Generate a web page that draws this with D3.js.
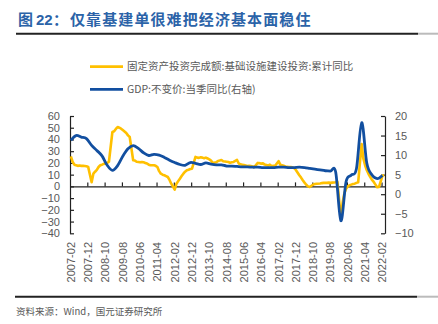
<!DOCTYPE html>
<html><head><meta charset="utf-8">
<script src="https://cdn.jsdelivr.net/npm/d3@7"></script>
<style>body{margin:0;background:#fff;} svg{display:block}</style>
</head><body>
<svg id="c" width="438" height="324"></svg>
<script>
// ---- data ----
// 基础设施建设投资 累计同比 (%), monthly 2007-02 .. 2022-03 (January = null, not published)
const infra = [
  /*2007*/ 25.5, 21.0, 18.5, 18.0, 17.5, 17.8, 17.5, 17.6, 17.4, 17.2, 16.6,
  /*2008*/ null, 3.5, 10.8, 12.5, 14.0, 16.5, 18.0, 18.5, 19.2, 19.5, 20.0, 21.0,
  /*2009*/ null, 46.4, 47.0, 49.0, 50.6, 50.0, 49.2, 48.0, 46.8, 45.5, 43.5, 42.1,
  /*2010*/ null, 22.3, 22.0, 21.0, 20.8, 20.5, 20.8, 20.5, 20.0, 19.5, 18.5, 18.0,
  /*2011*/ null, 18.0, 17.5, 16.5, 13.0, 10.8, 10.0, 9.5, 8.8, 8.0, 5.5, 2.3,
  /*2012*/ null, -2.8, 2.3, 4.5, 6.6, 8.8, 10.8, 12.5, 13.7, 14.2, 14.8, 15.1,
  /*2013*/ null, 25.1, 24.5, 24.3, 24.8, 24.5, 24.0, 24.5, 23.8, 23.0, 22.0, 20.0,
  /*2014*/ null, 20.5, 21.7, 22.0, 22.5, 21.4, 21.2, 21.0, 20.8, 20.2, 20.5, 20.8,
  /*2015*/ null, 22.5, 19.5, 18.8, 18.5, 18.2, 17.8, 17.4, 17.6, 17.3, 17.0, 16.5,
  /*2016*/ null, 20.0, 19.8, 19.4, 19.6, 18.6, 18.2, 17.8, 18.5, 17.4, 17.5, 17.6,
  /*2017*/ null, 21.5, 18.5, 18.0, 17.5, 17.0, 16.8, 16.5, 16.5, 16.2, 15.5, 14.0,
  /*2018*/ null, 9.5, 7.5, 5.2, 3.2, 1.4, 0.0, -0.5, 0.5, 1.5, 2.0, 2.3,
  /*2019*/ null, 2.5, 2.8, 3.0, 3.0, 3.0, 3.2, 3.0, 3.2, 3.3, 3.5, 3.8,
  /*2020*/ null, -27.0, -14.0, -6.0, -2.0, 0.0, 1.0, 1.5, 2.0, 2.3, 3.0, 3.5,
  /*2021*/ null, 36.0, 23.6, 18.0, 13.7, 10.5, 8.0, 5.5, 3.8, 1.5, -0.8, -0.6,
  /*2022*/ null, 9.0, 9.5
];
// GDP 不变价 当季同比 (%), quarterly 2007Q1 .. 2022Q1
const gdp = [
  13.8, 15.0, 14.6, 14.2,
  12.5, 11.2, 9.8, 7.4,
  6.1, 7.3, 9.7, 11.6,
  12.4, 11.7, 10.6, 9.9,
  10.2, 10.0, 9.4, 8.7,
  8.1, 7.6, 7.4, 8.1,
  7.9, 7.6, 8.0, 7.7,
  7.5, 7.5, 7.2, 7.2,
  7.1, 7.0, 7.0, 6.9,
  6.9, 6.8, 6.8, 6.8,
  6.9, 6.9, 6.8, 6.8,
  6.9, 6.8, 6.6, 6.4,
  6.2, 6.0, 5.9, 5.7,
  -6.8, 3.2, 4.9, 6.5,
  18.3, 7.9, 4.9, 4.0,
  4.8
];
const xTickLabels = ["2007-02","2007-12","2008-10","2009-08","2010-06","2011-04","2012-02","2012-12","2013-10","2014-08","2015-06","2016-04","2017-02","2017-12","2018-10","2019-08","2020-06","2021-04","2022-02"];
const leftTicks = [-40,-30,-20,-10,0,10,20,30,40,50,60];
const rightTicks = [-10,-5,0,5,10,15,20];
const seriesNames = ["固定资产投资完成额:基础设施建设投资:累计同比", "GDP:不变价:当季同比(右轴)"];
const titleParts = ["图", "22", "：", "仅靠基建单很难把经济基本面稳住"];
const sourceText = "资料来源：Wind，国元证券研究所";

// ---- categories (months) ----
const pad = n => (n < 10 ? "0" : "") + n;
const months = [];
for (let y = 2007; y <= 2022; y++) for (let m = 1; m <= 12; m++) {
  if (y === 2007 && m < 2) continue;
  if (y === 2022 && m > 3) continue;
  months.push(y + "-" + pad(m));
}

const YELLOW = "#FFC000", BLUE = "#124FA0", GRAY = "#595959";
const CJK = "'Noto Sans CJK SC', 'Liberation Sans', sans-serif";
const LAT = "'Liberation Sans', Arial, sans-serif";

const svg = d3.select("#c");
const x = d3.scaleBand().domain(months).range([70, 385]).padding(0);
const xc = m => x(m) + x.bandwidth() / 2;
const xi = d3.scaleLinear().domain([0, months.length]).range([70, 385]);
const yL = d3.scaleLinear().domain([-40, 60]).range([233.3, 116]);
const yR = d3.scaleLinear().domain([-10, 20]).range([233.3, 116]);

// ---- title ----
const t = svg.append("text").attr("y", 24.5).attr("fill", "#2B63A8")
  .attr("font-weight", "bold").attr("font-size", 15).attr("font-family", CJK);
t.append("tspan").attr("x", 18).text(titleParts[0]);
t.append("tspan").attr("x", 36).attr("font-family", LAT).text(titleParts[1]);
t.append("tspan").attr("x", 53).text(titleParts[2]);
t.append("tspan").attr("x", 70).attr("letter-spacing", 1.1).text(titleParts[3]);
svg.append("line").attr("x1", 16).attr("x2", 418).attr("y1", 33.7).attr("y2", 33.7)
  .attr("stroke", "#222").attr("stroke-width", 2);
svg.append("line").attr("x1", 418).attr("x2", 438).attr("y1", 33.7).attr("y2", 33.7)
  .attr("stroke", "#bbb").attr("stroke-width", 2);

// ---- legend ----
const leg = [{c: YELLOW, y: 66.7, t: seriesNames[0]}, {c: BLUE, y: 89.3, t: seriesNames[1]}];
leg.forEach(d => {
  svg.append("line").attr("x1", 90).attr("x2", 123).attr("y1", d.y).attr("y2", d.y)
    .attr("stroke", d.c).attr("stroke-width", 2.8);
  svg.append("text").attr("x", 127).attr("y", d.y).attr("dy", "0.36em")
    .attr("font-size", 10.5).attr("font-family", CJK).attr("fill", GRAY).text(d.t);
});

// ---- axes ----
const styleAxis = g => {
  g.selectAll("path.domain").attr("stroke", "#222").attr("stroke-width", 1.2);
  g.selectAll(".tick line").attr("stroke", "#222").attr("stroke-width", 1.2);
  g.selectAll(".tick text").attr("fill", GRAY).attr("font-size", 11).attr("font-family", LAT);
};
svg.append("g").attr("transform", "translate(70,0)")
  .call(d3.axisLeft(yL).tickValues(leftTicks).tickSize(-4).tickSizeOuter(0).tickPadding(10))
  .call(styleAxis);
svg.append("g").attr("transform", "translate(385,0)")
  .call(d3.axisRight(yR).tickValues(rightTicks).tickSize(-4).tickSizeOuter(0).tickPadding(10))
  .call(styleAxis);
const xa = svg.append("g").attr("transform", `translate(0,${yL(0)})`)
  .call(d3.axisBottom(xi).tickValues(d3.range(10, months.length, 10)).tickSize(-4).tickSizeOuter(0).tickFormat(""))
  .call(styleAxis);

// x labels
svg.append("g").selectAll("text").data(xTickLabels).join("text")
  .attr("transform", d => `translate(${xc(d)},242) rotate(-90)`)
  .attr("text-anchor", "end").attr("dy", "0.36em")
  .attr("font-size", 11).attr("font-family", LAT).attr("fill", GRAY).text(d => d);

// ---- series ----
const infraPts = months.map((m, i) => ({m, v: infra[i]})).filter(d => d.v !== null && d.v !== undefined);
svg.append("path").datum(infraPts)
  .attr("fill", "none").attr("stroke", YELLOW).attr("stroke-width", 2.6).attr("stroke-linejoin", "round")
  .attr("d", d3.line().x(d => xc(d.m)).y(d => yL(d.v)));

const gdpPts = gdp.map((v, q) => ({m: (2007 + Math.floor(q / 4)) + "-" + pad(2 + 3 * (q % 4)), v}));
svg.append("path").datum(gdpPts)
  .attr("fill", "none").attr("stroke", BLUE).attr("stroke-width", 2.8).attr("stroke-linejoin", "round")
  .attr("d", d3.line().x(d => xc(d.m)).y(d => yR(d.v)).curve(d3.curveCardinal.tension(0)));

// ---- footer ----
svg.append("line").attr("x1", 15).attr("x2", 417).attr("y1", 296.7).attr("y2", 296.7)
  .attr("stroke", "#222").attr("stroke-width", 2);
svg.append("line").attr("x1", 417).attr("x2", 438).attr("y1", 296.7).attr("y2", 296.7)
  .attr("stroke", "#bbb").attr("stroke-width", 2);
svg.append("text").attr("x", 16).attr("y", 312).attr("dy", "0.36em")
  .attr("font-size", 9.5).attr("font-family", CJK).attr("fill", GRAY).text(sourceText);
</script>
</body></html>
